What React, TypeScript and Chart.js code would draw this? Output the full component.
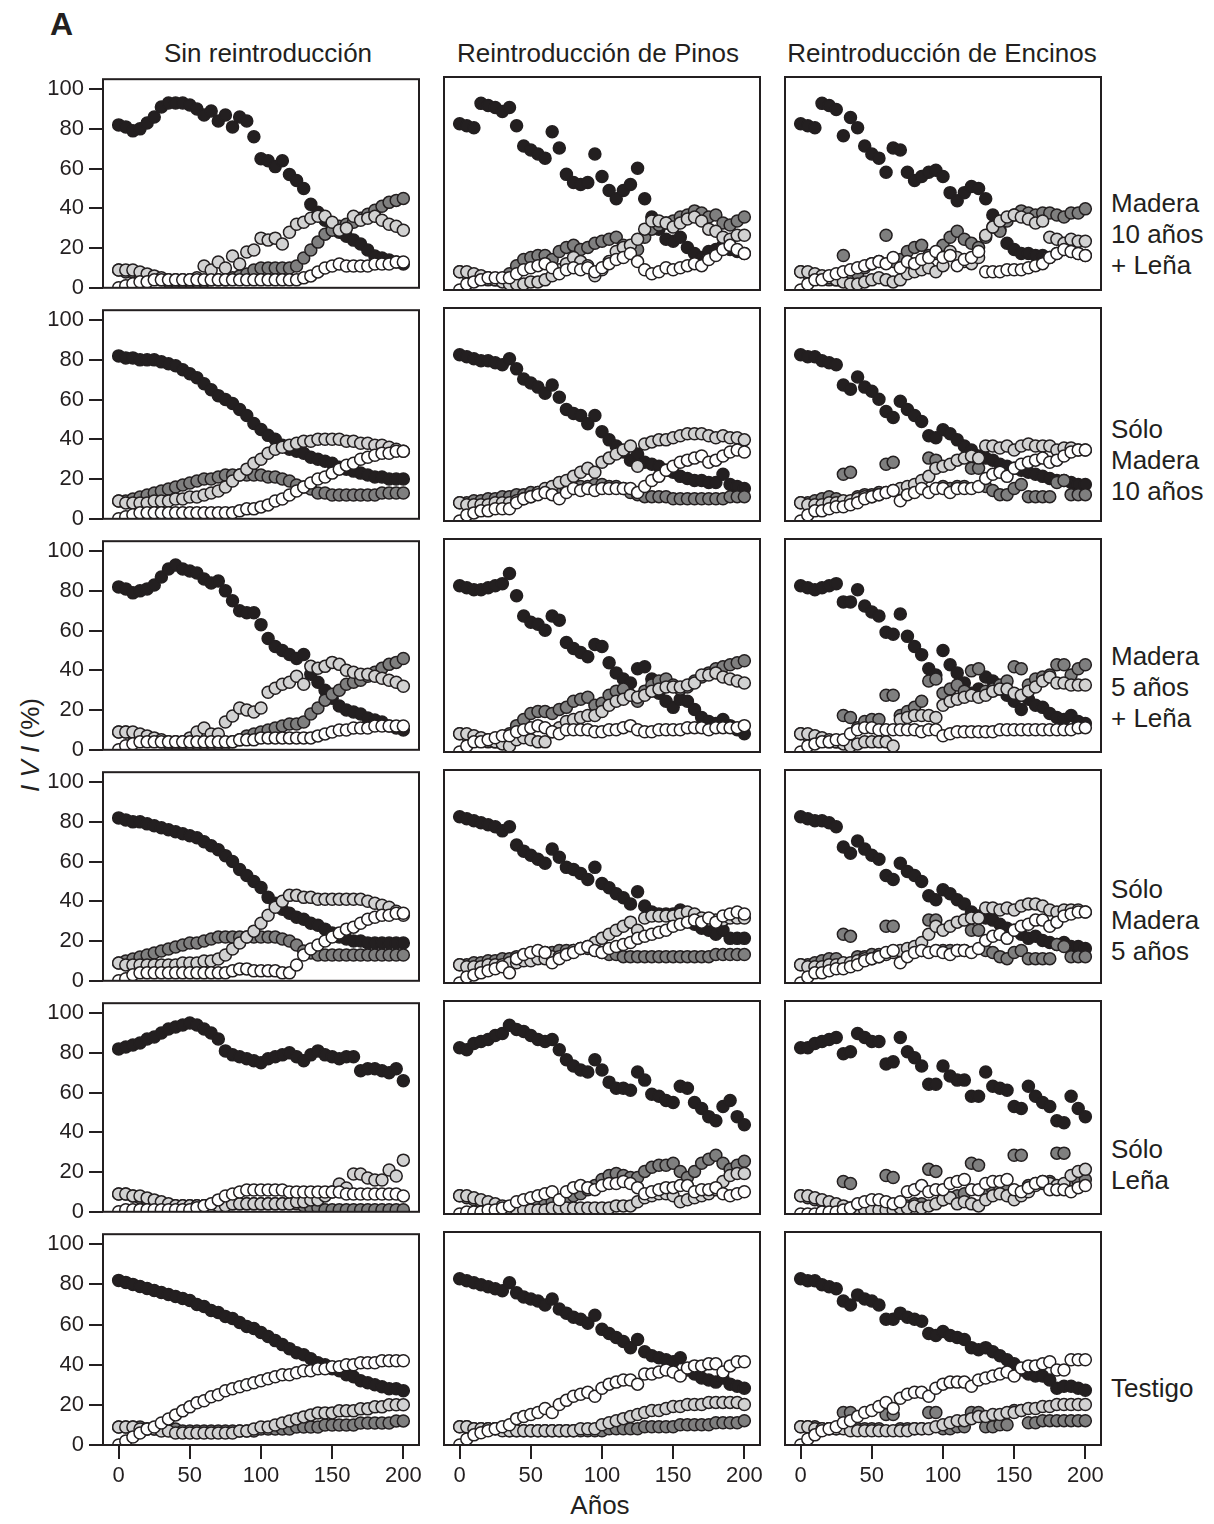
import React, { useEffect, useRef } from "react";
import { Chart, registerables } from "chart.js";

Chart.register(...registerables);

const INK = "#231f20";
const FONT = "'Liberation Sans', Arial, Helvetica, sans-serif";

// ---------- data ----------
const YEARS = [0, 5, 10, 15, 20, 25, 30, 35, 40, 45, 50, 55, 60, 65, 70, 75, 80, 85, 90, 95, 100, 105, 110, 115, 120, 125, 130, 135, 140, 145, 150, 155, 160, 165, 170, 175, 180, 185, 190, 195, 200];
const Y_TICKS = [0, 20, 40, 60, 80, 100];
const X_TICKS = [0, 50, 100, 150, 200];
const COLUMN_TITLES = ["Sin reintroducción", "Reintroducción de Pinos", "Reintroducción de Encinos"];
const ROW_LABELS = [
  ["Madera", "10 años", "+ Leña"],
  ["Sólo", "Madera", "10 años"],
  ["Madera", "5 años", "+ Leña"],
  ["Sólo", "Madera", "5 años"],
  ["Sólo", "Leña"],
  ["Testigo"],
];
const SERIES_NAMES = ["Blanco", "Gris claro", "Gris oscuro", "Negro"];
const SERIES_FILLS = ["#ffffff", "#d2d2d2", "#7f7f7f", INK];

// Row 1: Madera 10 años + Leña
const M10L_SR_BLACK = [82, 81, 79, 80, 83, 86, 91, 93, 93, 93, 92, 90, 87, 89, 84, 87, 81, 86, 84, 76, 65, 64, 61, 64, 57, 54, 50, 42, 38, 34, 30, 28, 26, 24, 22, 19, 16, 15, 14, 13, 12];
const M10L_SR_DARK = [9, 8, 8, 7, 6, 5, 4, 3, 3, 3, 3, 3, 3, 4, 4, 4, 5, 6, 7, 9, 10, 10, 10, 10, 10, 11, 15, 19, 23, 27, 29, 31, 32, 33, 35, 37, 39, 41, 43, 44, 45];
const M10L_SR_LIGHT = [9, 9, 9, 8, 7, 6, 5, 4, 4, 4, 4, 5, 11, 9, 13, 10, 16, 12, 18, 19, 25, 24, 25, 22, 28, 32, 33, 35, 36, 36, 33, 29, 30, 36, 34, 35, 36, 34, 32, 31, 29];
const M10L_SR_WHITE = [0, 1, 2, 3, 3, 4, 4, 4, 4, 4, 4, 4, 4, 4, 4, 4, 4, 4, 4, 4, 4, 4, 4, 4, 4, 4, 5, 6, 8, 10, 11, 12, 11, 11, 11, 11, 12, 12, 12, 13, 13];

const M10L_RP_BLACK = [82, 81, 80, 92, 91, 90, 88, 90, 81, 71, 69, 67, 65, 78, 70, 57, 53, 52, 53, 67, 56, 49, 45, 49, 52, 60, 45, 36, 30, 25, 24, 26, 21, 18, 16, 19, 20, 22, 20, 19, 18];
const M10L_RP_DARK = [9, 8, 7, 6, 5, 5, 5, 8, 12, 15, 16, 17, 17, 15, 19, 21, 22, 20, 21, 23, 24, 25, 26, 22, 20, 20, 26, 30, 32, 33, 34, 36, 37, 39, 38, 36, 37, 33, 32, 34, 36];
const M10L_RP_LIGHT = [9, 9, 8, 7, 6, 5, 4, 3, 3, 3, 4, 4, 5, 7, 10, 13, 16, 14, 12, 7, 10, 14, 19, 21, 22, 25, 30, 34, 34, 33, 31, 33, 35, 36, 34, 30, 29, 26, 25, 27, 27];
const M10L_RP_WHITE = [0, 3, 4, 5, 6, 6, 6, 6, 8, 10, 11, 12, 13, 11, 8, 10, 11, 10, 11, 9, 11, 13, 15, 16, 18, 14, 10, 8, 9, 11, 10, 11, 12, 13, 12, 15, 17, 20, 22, 20, 18];

const M10L_RE_BLACK = [82, 81, 80, 92, 91, 89, 76, 85, 80, 71, 67, 65, 58, 70, 69, 58, 54, 56, 58, 59, 56, 48, 44, 48, 51, 50, 45, 37, 30, 23, 20, 18, 18, 17, 17, 16, 18, 20, 19, 18, 17];
const M10L_RE_DARK = [9, 8, 7, 6, 5, 5, 17, 6, 8, 11, 13, 14, 27, 14, 15, 19, 21, 22, 17, 18, 22, 26, 29, 25, 23, 21, 26, 31, 29, 34, 37, 39, 38, 37, 38, 38, 37, 36, 38, 38, 40];
const M10L_RE_LIGHT = [9, 9, 8, 7, 6, 5, 4, 3, 3, 4, 5, 6, 5, 4, 5, 8, 9, 10, 11, 9, 12, 19, 16, 14, 13, 16, 27, 31, 34, 36, 37, 36, 35, 33, 34, 26, 25, 23, 25, 24, 24];
const M10L_RE_WHITE = [0, 3, 5, 5, 7, 8, 9, 10, 11, 12, 13, 14, 13, 16, 11, 14, 13, 15, 16, 19, 16, 17, 12, 15, 16, 19, 9, 9, 9, 10, 10, 10, 11, 12, 13, 16, 18, 20, 19, 18, 17];

// Row 2: Sólo Madera 10 años
const M10_SR_BLACK = [82, 81, 81, 80, 80, 80, 79, 78, 77, 75, 73, 71, 68, 65, 62, 60, 58, 55, 52, 48, 45, 42, 40, 37, 35, 34, 33, 31, 30, 29, 28, 26, 25, 24, 23, 22, 21, 21, 20, 20, 20];
const M10_SR_DARK = [9, 9, 10, 11, 12, 13, 14, 15, 16, 17, 18, 19, 20, 20, 21, 22, 22, 22, 22, 22, 22, 21, 21, 20, 19, 17, 16, 15, 13, 13, 12, 12, 12, 12, 12, 12, 12, 13, 13, 13, 13];
const M10_SR_LIGHT = [9, 8, 8, 8, 8, 9, 9, 9, 10, 10, 11, 11, 12, 13, 14, 16, 19, 22, 25, 28, 30, 33, 35, 36, 37, 38, 39, 39, 40, 40, 40, 40, 39, 39, 38, 38, 37, 37, 36, 35, 34];
const M10_SR_WHITE = [0, 1, 2, 3, 3, 3, 3, 3, 3, 3, 3, 3, 3, 3, 3, 3, 3, 4, 5, 5, 6, 7, 9, 10, 12, 14, 16, 18, 20, 21, 23, 25, 27, 28, 30, 31, 32, 33, 33, 34, 34];

const M10_RP_BLACK = [82, 81, 80, 79, 79, 78, 77, 80, 75, 70, 68, 66, 63, 67, 61, 55, 53, 52, 48, 52, 44, 40, 37, 34, 30, 33, 29, 28, 27, 25, 24, 22, 21, 20, 20, 19, 19, 23, 18, 17, 16];
const M10_RP_DARK = [9, 9, 10, 10, 11, 11, 12, 12, 13, 13, 14, 14, 15, 15, 16, 16, 16, 17, 17, 18, 18, 17, 17, 16, 14, 13, 12, 12, 12, 12, 11, 11, 11, 11, 11, 11, 11, 11, 12, 12, 12];
const M10_RP_LIGHT = [9, 8, 8, 8, 8, 9, 9, 9, 10, 11, 12, 14, 16, 17, 19, 20, 22, 24, 26, 24, 29, 31, 33, 35, 37, 27, 38, 39, 40, 40, 41, 42, 43, 43, 43, 42, 41, 42, 41, 41, 40];
const M10_RP_WHITE = [0, 3, 4, 5, 5, 6, 6, 6, 9, 11, 12, 13, 14, 13, 11, 14, 16, 15, 16, 15, 16, 16, 16, 16, 16, 14, 17, 20, 22, 25, 27, 29, 30, 31, 32, 29, 30, 32, 34, 35, 34];

const M10_RE_BLACK = [82, 81, 81, 79, 78, 77, 67, 65, 71, 66, 64, 60, 54, 51, 59, 55, 52, 49, 42, 41, 45, 43, 40, 37, 35, 32, 31, 30, 28, 27, 26, 25, 24, 23, 22, 21, 20, 20, 19, 18, 18];
const M10_RE_DARK = [9, 9, 10, 11, 12, 11, 23, 24, 12, 13, 13, 14, 28, 29, 14, 15, 15, 16, 31, 30, 17, 16, 17, 17, 26, 26, 17, 15, 13, 13, 16, 18, 12, 12, 12, 12, 19, 20, 13, 13, 13];
const M10_RE_LIGHT = [9, 8, 8, 8, 9, 9, 10, 10, 11, 12, 12, 13, 14, 15, 16, 17, 18, 20, 22, 26, 27, 28, 30, 31, 32, 31, 37, 37, 36, 37, 35, 37, 38, 37, 37, 37, 35, 36, 36, 35, 35];
const M10_RE_WHITE = [0, 3, 5, 5, 6, 7, 7, 8, 9, 11, 12, 13, 14, 15, 10, 13, 14, 16, 14, 16, 16, 14, 16, 16, 16, 17, 21, 23, 24, 22, 26, 28, 29, 30, 31, 29, 30, 32, 34, 35, 35];

// Row 3: Madera 5 años + Leña
const M5L_SR_BLACK = [82, 81, 79, 80, 81, 83, 87, 91, 93, 91, 90, 89, 86, 84, 85, 80, 75, 70, 69, 69, 63, 56, 52, 50, 48, 46, 48, 38, 34, 30, 26, 22, 20, 19, 18, 16, 15, 14, 12, 11, 10];
const M5L_SR_DARK = [9, 9, 8, 7, 6, 5, 4, 3, 3, 3, 3, 3, 3, 3, 3, 3, 4, 5, 7, 8, 9, 10, 11, 12, 13, 13, 14, 18, 21, 25, 28, 30, 33, 34, 35, 37, 39, 41, 43, 44, 46];
const M5L_SR_LIGHT = [9, 9, 9, 8, 7, 6, 5, 4, 4, 4, 6, 9, 11, 8, 8, 14, 17, 21, 20, 19, 21, 29, 31, 33, 34, 37, 33, 42, 41, 42, 44, 43, 40, 39, 38, 38, 37, 36, 35, 34, 32];
const M5L_SR_WHITE = [0, 2, 3, 4, 4, 4, 4, 4, 4, 4, 4, 4, 4, 4, 4, 4, 4, 5, 5, 5, 6, 6, 6, 6, 6, 6, 6, 6, 7, 8, 9, 10, 10, 11, 11, 11, 12, 12, 12, 12, 12];

const M5L_RP_BLACK = [82, 81, 80, 80, 81, 82, 83, 88, 77, 67, 64, 63, 60, 67, 65, 54, 51, 49, 47, 53, 52, 44, 39, 36, 34, 41, 42, 36, 29, 25, 22, 26, 25, 21, 17, 15, 14, 16, 13, 11, 9];
const M5L_RP_DARK = [9, 8, 7, 6, 5, 5, 6, 9, 13, 16, 19, 20, 20, 19, 21, 22, 25, 26, 27, 23, 24, 28, 30, 31, 28, 25, 30, 33, 35, 36, 33, 31, 32, 35, 37, 39, 41, 42, 43, 44, 45];
const M5L_RP_LIGHT = [9, 9, 8, 7, 6, 5, 4, 3, 6, 7, 6, 5, 5, 10, 12, 15, 16, 17, 18, 18, 20, 23, 25, 26, 28, 27, 28, 30, 31, 32, 32, 32, 33, 34, 38, 38, 39, 37, 36, 35, 34];
const M5L_RP_WHITE = [0, 3, 5, 5, 6, 7, 8, 8, 10, 11, 12, 13, 12, 10, 9, 11, 11, 11, 11, 10, 10, 11, 11, 12, 13, 11, 10, 10, 11, 11, 11, 11, 12, 12, 12, 11, 12, 12, 12, 12, 13];

const M5L_RE_BLACK = [82, 81, 80, 81, 82, 83, 74, 74, 80, 72, 69, 67, 59, 58, 68, 57, 52, 48, 41, 38, 50, 43, 39, 34, 29, 31, 37, 35, 31, 28, 25, 21, 26, 23, 22, 19, 17, 16, 18, 15, 14];
const M5L_RE_DARK = [9, 8, 7, 6, 5, 5, 18, 17, 12, 15, 16, 16, 28, 28, 18, 20, 22, 25, 35, 36, 29, 31, 33, 30, 40, 41, 30, 31, 33, 35, 42, 41, 33, 36, 37, 38, 43, 43, 38, 41, 43];
const M5L_RE_LIGHT = [9, 9, 8, 7, 6, 5, 4, 3, 4, 5, 5, 5, 5, 3, 16, 17, 18, 18, 18, 17, 23, 25, 26, 27, 28, 27, 28, 30, 31, 31, 29, 28, 30, 32, 35, 37, 34, 34, 33, 33, 33];
const M5L_RE_WHITE = [0, 3, 4, 5, 5, 6, 6, 9, 11, 12, 12, 11, 11, 11, 11, 11, 11, 10, 11, 11, 8, 9, 10, 10, 10, 10, 10, 10, 11, 11, 11, 11, 11, 11, 11, 11, 11, 11, 11, 12, 12];

// Row 4: Sólo Madera 5 años
const M5_SR_BLACK = [82, 81, 80, 80, 79, 78, 77, 76, 75, 74, 73, 72, 70, 68, 66, 63, 60, 56, 53, 50, 47, 42, 39, 36, 34, 32, 31, 29, 28, 26, 24, 22, 21, 20, 20, 19, 19, 19, 19, 19, 19];
const M5_SR_DARK = [9, 10, 11, 12, 13, 14, 15, 16, 17, 18, 19, 19, 20, 21, 22, 22, 22, 22, 22, 22, 22, 22, 22, 21, 20, 18, 15, 14, 13, 13, 13, 13, 13, 13, 13, 13, 13, 13, 13, 13, 13];
const M5_SR_LIGHT = [9, 8, 8, 8, 8, 8, 8, 8, 8, 9, 9, 9, 10, 10, 11, 13, 16, 19, 22, 25, 29, 33, 37, 40, 43, 43, 42, 42, 41, 41, 41, 41, 41, 41, 41, 40, 39, 38, 37, 35, 33];
const M5_SR_WHITE = [0, 1, 3, 4, 4, 4, 4, 4, 4, 4, 4, 4, 4, 4, 4, 4, 5, 6, 6, 5, 5, 5, 5, 4, 4, 8, 13, 16, 18, 20, 22, 24, 26, 27, 29, 31, 32, 33, 33, 34, 34];

const M5_RP_BLACK = [82, 81, 80, 79, 78, 77, 75, 77, 68, 65, 63, 61, 59, 66, 62, 57, 56, 54, 51, 57, 49, 47, 44, 42, 39, 45, 38, 35, 34, 34, 34, 36, 32, 29, 27, 26, 24, 26, 22, 22, 22];
const M5_RP_DARK = [9, 9, 10, 10, 11, 11, 12, 12, 13, 13, 14, 14, 15, 15, 16, 16, 16, 17, 17, 16, 15, 14, 14, 13, 13, 13, 13, 13, 13, 13, 13, 13, 13, 13, 13, 13, 14, 14, 14, 14, 14];
const M5_RP_LIGHT = [9, 8, 8, 8, 9, 9, 9, 10, 10, 11, 11, 12, 12, 13, 13, 14, 16, 17, 18, 20, 22, 24, 26, 28, 30, 26, 32, 33, 33, 33, 33, 34, 35, 34, 32, 31, 31, 31, 32, 32, 32];
const M5_RP_WHITE = [0, 3, 4, 5, 6, 7, 8, 5, 12, 14, 15, 16, 15, 10, 12, 14, 15, 17, 18, 16, 15, 17, 18, 19, 20, 22, 23, 24, 25, 26, 28, 29, 30, 31, 30, 32, 30, 33, 34, 35, 34];

const M5_RE_BLACK = [82, 81, 80, 80, 79, 77, 67, 64, 70, 66, 63, 61, 53, 51, 59, 55, 53, 50, 43, 41, 46, 44, 41, 39, 35, 33, 32, 31, 29, 27, 26, 24, 22, 23, 21, 20, 19, 20, 18, 18, 17];
const M5_RE_DARK = [9, 9, 10, 11, 12, 12, 24, 23, 13, 13, 14, 14, 28, 28, 15, 15, 16, 16, 31, 31, 16, 16, 16, 16, 26, 26, 16, 15, 13, 12, 15, 16, 12, 12, 12, 12, 19, 18, 13, 13, 13];
const M5_RE_LIGHT = [9, 8, 8, 8, 9, 9, 10, 10, 11, 12, 12, 13, 14, 15, 16, 17, 18, 20, 24, 28, 26, 28, 30, 31, 32, 32, 37, 37, 36, 37, 36, 38, 39, 39, 38, 36, 35, 36, 36, 36, 35];
const M5_RE_WHITE = [0, 3, 5, 5, 6, 7, 7, 8, 9, 11, 12, 13, 15, 16, 10, 13, 15, 16, 15, 16, 15, 14, 16, 16, 15, 17, 21, 23, 24, 22, 26, 28, 29, 31, 31, 28, 30, 33, 34, 35, 35];

// Row 5: Sólo Leña
const L_SR_BLACK = [82, 83, 84, 85, 87, 88, 90, 92, 93, 94, 95, 94, 92, 90, 87, 81, 79, 78, 77, 76, 75, 77, 78, 79, 80, 78, 76, 79, 81, 79, 78, 77, 78, 78, 71, 72, 72, 71, 70, 72, 66];
const L_SR_DARK = [9, 9, 8, 7, 6, 5, 4, 3, 3, 3, 3, 3, 3, 3, 4, 4, 4, 4, 4, 4, 4, 4, 4, 4, 4, 4, 3, 2, 2, 1, 1, 1, 1, 1, 1, 1, 1, 1, 1, 1, 1];
const L_SR_LIGHT = [9, 9, 8, 8, 7, 6, 5, 4, 3, 3, 3, 3, 3, 3, 3, 3, 4, 4, 4, 4, 4, 4, 4, 4, 4, 5, 5, 6, 6, 8, 10, 14, 12, 19, 19, 17, 16, 16, 21, 18, 26];
const L_SR_WHITE = [0, 1, 1, 1, 1, 1, 1, 1, 1, 1, 1, 2, 3, 4, 6, 8, 9, 10, 11, 11, 11, 11, 11, 11, 10, 10, 10, 10, 10, 10, 10, 10, 9, 9, 9, 9, 9, 9, 9, 9, 8];

const L_RP_BLACK = [82, 81, 84, 85, 86, 88, 89, 93, 91, 90, 88, 86, 85, 86, 81, 76, 73, 71, 70, 76, 71, 65, 62, 62, 61, 70, 66, 59, 58, 56, 55, 63, 62, 55, 52, 48, 46, 53, 56, 48, 44];
const L_RP_DARK = [9, 8, 7, 6, 5, 4, 3, 3, 3, 3, 4, 4, 5, 6, 7, 8, 9, 10, 12, 14, 17, 19, 20, 19, 18, 18, 21, 23, 24, 24, 25, 21, 18, 21, 25, 27, 29, 25, 22, 24, 26];
const L_RP_LIGHT = [9, 9, 8, 7, 6, 5, 4, 3, 2, 2, 2, 2, 2, 3, 3, 3, 3, 3, 3, 3, 3, 3, 4, 4, 4, 6, 8, 9, 10, 10, 9, 6, 7, 8, 9, 10, 12, 16, 19, 20, 20];
const L_RP_WHITE = [0, 1, 1, 1, 2, 2, 3, 4, 6, 7, 8, 9, 10, 11, 7, 11, 13, 14, 13, 12, 14, 15, 15, 16, 15, 13, 10, 11, 12, 13, 13, 14, 14, 11, 12, 12, 13, 10, 9, 10, 11];

const L_RE_BLACK = [82, 82, 84, 85, 86, 87, 79, 80, 89, 87, 85, 85, 74, 75, 87, 80, 77, 73, 64, 64, 73, 68, 66, 66, 58, 58, 70, 63, 62, 61, 53, 52, 63, 58, 55, 53, 46, 45, 58, 52, 48];
const L_RE_DARK = [9, 8, 7, 6, 5, 4, 16, 15, 3, 3, 3, 3, 19, 18, 4, 4, 5, 5, 22, 21, 7, 8, 9, 10, 25, 24, 11, 12, 13, 13, 29, 29, 14, 15, 15, 16, 30, 30, 16, 16, 17];
const L_RE_LIGHT = [9, 9, 8, 7, 6, 5, 4, 3, 3, 2, 2, 2, 2, 2, 3, 3, 4, 3, 4, 5, 7, 8, 5, 6, 5, 4, 7, 9, 10, 9, 7, 9, 11, 14, 16, 15, 14, 15, 19, 21, 22];
const L_RE_WHITE = [0, 0, 0, 1, 1, 1, 2, 3, 5, 6, 7, 7, 6, 5, 6, 11, 12, 14, 11, 12, 12, 15, 16, 17, 12, 12, 15, 16, 16, 17, 12, 11, 13, 15, 16, 12, 12, 12, 11, 13, 14];

// Row 6: Testigo
const T_SR_BLACK = [82, 81, 80, 79, 78, 77, 76, 75, 74, 73, 72, 70, 69, 67, 66, 64, 63, 61, 59, 58, 56, 54, 52, 50, 48, 46, 45, 43, 41, 40, 38, 37, 35, 34, 32, 31, 30, 29, 28, 28, 27];
const T_SR_DARK = [9, 9, 9, 9, 8, 8, 8, 8, 8, 7, 7, 7, 7, 7, 7, 7, 7, 7, 7, 7, 8, 8, 8, 8, 8, 9, 9, 9, 9, 10, 10, 10, 10, 10, 11, 11, 11, 11, 11, 12, 12];
const T_SR_LIGHT = [9, 9, 9, 8, 8, 8, 7, 7, 6, 6, 6, 6, 6, 6, 6, 6, 6, 7, 7, 8, 9, 9, 10, 11, 12, 13, 14, 15, 16, 16, 16, 17, 17, 17, 18, 18, 19, 19, 20, 20, 20];
const T_SR_WHITE = [0, 2, 4, 6, 8, 9, 11, 13, 15, 17, 19, 21, 22, 24, 25, 27, 28, 29, 30, 31, 32, 33, 34, 35, 35, 36, 37, 37, 38, 38, 39, 39, 40, 40, 41, 41, 41, 42, 42, 42, 42];

const T_RP_BLACK = [82, 81, 80, 79, 78, 77, 76, 80, 75, 73, 72, 71, 69, 72, 67, 65, 63, 62, 60, 64, 57, 55, 53, 51, 48, 52, 46, 44, 43, 42, 41, 43, 37, 35, 33, 32, 31, 33, 30, 29, 28];
const T_RP_DARK = [9, 9, 8, 8, 8, 8, 8, 7, 7, 7, 7, 7, 7, 7, 7, 7, 7, 7, 7, 7, 7, 8, 8, 8, 8, 8, 9, 9, 9, 9, 9, 10, 10, 10, 10, 10, 11, 11, 11, 11, 12];
const T_RP_LIGHT = [9, 9, 8, 8, 8, 8, 7, 7, 7, 7, 7, 7, 7, 7, 7, 7, 7, 8, 8, 8, 10, 11, 12, 13, 14, 15, 16, 17, 17, 18, 19, 19, 20, 20, 20, 21, 21, 21, 21, 21, 20];
const T_RP_WHITE = [0, 3, 5, 6, 7, 8, 9, 10, 13, 14, 15, 16, 18, 16, 20, 22, 24, 25, 26, 24, 28, 30, 31, 32, 32, 30, 35, 35, 36, 37, 36, 34, 38, 39, 39, 40, 40, 36, 39, 41, 41];

const T_RE_BLACK = [82, 81, 81, 79, 78, 77, 71, 69, 74, 72, 71, 69, 62, 62, 65, 63, 62, 61, 55, 54, 56, 54, 53, 52, 48, 47, 48, 46, 44, 42, 40, 37, 35, 34, 34, 32, 28, 29, 29, 28, 27];
const T_RE_DARK = [9, 9, 9, 8, 8, 8, 16, 16, 8, 8, 8, 8, 15, 15, 8, 8, 8, 8, 16, 16, 8, 8, 9, 9, 16, 16, 9, 9, 10, 10, 17, 17, 11, 11, 12, 12, 12, 12, 12, 12, 12];
const T_RE_LIGHT = [9, 9, 8, 8, 8, 8, 8, 7, 7, 7, 7, 7, 7, 7, 7, 7, 8, 8, 8, 9, 10, 11, 12, 12, 13, 14, 14, 15, 15, 16, 16, 17, 18, 18, 19, 19, 20, 20, 20, 20, 20];
const T_RE_WHITE = [0, 3, 5, 7, 8, 9, 11, 12, 14, 16, 17, 19, 21, 18, 23, 25, 26, 26, 24, 28, 30, 31, 31, 31, 29, 32, 33, 34, 35, 36, 34, 38, 39, 39, 40, 41, 37, 37, 42, 42, 42];

type PanelData = { white: number[]; light: number[]; dark: number[]; black: number[] };
const P = (white: number[], light: number[], dark: number[], black: number[]): PanelData => ({ white, light, dark, black });

const GRID: PanelData[][] = [
  [P(M10L_SR_WHITE, M10L_SR_LIGHT, M10L_SR_DARK, M10L_SR_BLACK), P(M10L_RP_WHITE, M10L_RP_LIGHT, M10L_RP_DARK, M10L_RP_BLACK), P(M10L_RE_WHITE, M10L_RE_LIGHT, M10L_RE_DARK, M10L_RE_BLACK)],
  [P(M10_SR_WHITE, M10_SR_LIGHT, M10_SR_DARK, M10_SR_BLACK), P(M10_RP_WHITE, M10_RP_LIGHT, M10_RP_DARK, M10_RP_BLACK), P(M10_RE_WHITE, M10_RE_LIGHT, M10_RE_DARK, M10_RE_BLACK)],
  [P(M5L_SR_WHITE, M5L_SR_LIGHT, M5L_SR_DARK, M5L_SR_BLACK), P(M5L_RP_WHITE, M5L_RP_LIGHT, M5L_RP_DARK, M5L_RP_BLACK), P(M5L_RE_WHITE, M5L_RE_LIGHT, M5L_RE_DARK, M5L_RE_BLACK)],
  [P(M5_SR_WHITE, M5_SR_LIGHT, M5_SR_DARK, M5_SR_BLACK), P(M5_RP_WHITE, M5_RP_LIGHT, M5_RP_DARK, M5_RP_BLACK), P(M5_RE_WHITE, M5_RE_LIGHT, M5_RE_DARK, M5_RE_BLACK)],
  [P(L_SR_WHITE, L_SR_LIGHT, L_SR_DARK, L_SR_BLACK), P(L_RP_WHITE, L_RP_LIGHT, L_RP_DARK, L_RP_BLACK), P(L_RE_WHITE, L_RE_LIGHT, L_RE_DARK, L_RE_BLACK)],
  [P(T_SR_WHITE, T_SR_LIGHT, T_SR_DARK, T_SR_BLACK), P(T_RP_WHITE, T_RP_LIGHT, T_RP_DARK, T_RP_BLACK), P(T_RE_WHITE, T_RE_LIGHT, T_RE_DARK, T_RE_BLACK)],
];

// ---------- layout ----------
const BOX_LEFT = [103, 444, 785];
const BOX_TOP = [77, 308, 539, 770, 1001, 1232];
const BOX_W = 316;
const BOX_H = 213;
const PAD = 16;
const Y_AXIS_W = 80;
const X_AXIS_H = 50;
const X_MIN = -11;
const X_MAX = 211;
const Y_MIN = 0;
const Y_MAX = 105;
const TITLE_CENTERS = [268, 598, 942];
const ROW_LABEL_TOPS = [188, 414, 641, 874, 1134, 1373];

const boxPlugin = {
  id: "panelBox",
  afterDraw(chart: any) {
    const { ctx, chartArea: a } = chart;
    ctx.save();
    ctx.strokeStyle = INK;
    ctx.lineWidth = 2;
    ctx.strokeRect(a.left, a.top, a.right - a.left, a.bottom - a.top);
    ctx.restore();
  },
};

function Panel({ row, col }: { row: number; col: number }) {
  const ref = useRef<HTMLCanvasElement>(null);
  const hasY = col === 0;
  const hasX = row === GRID.length - 1;
  const w = PAD * 2 + BOX_W + (hasY ? Y_AXIS_W : 0);
  const h = PAD * 2 + BOX_H + (hasX ? X_AXIS_H : 0);
  const left = BOX_LEFT[col] - PAD - (hasY ? Y_AXIS_W : 0);
  const top = BOX_TOP[row] - PAD;

  useEffect(() => {
    const p = GRID[row][col];
    const series = [p.white, p.light, p.dark, p.black];
    const tickGrid = {
      display: true,
      drawOnChartArea: false,
      drawTicks: true,
      tickLength: 14,
      color: INK,
      lineWidth: 2,
    };
    const tickFont = { family: FONT, size: 22 };
    const chart = new Chart(ref.current as HTMLCanvasElement, {
      type: "scatter",
      data: {
        datasets: series.map((arr, i) => ({
          label: SERIES_NAMES[i],
          data: YEARS.map((x, j) => ({ x, y: arr[j] })),
          backgroundColor: SERIES_FILLS[i],
          borderColor: INK,
          borderWidth: 1.5,
          pointRadius: 6,
          pointHoverRadius: 6,
          clip: 0,
        })),
      },
      options: {
        responsive: false,
        animation: false,
        devicePixelRatio: 1,
        events: [],
        layout: { padding: PAD },
        plugins: {
          legend: { display: false },
          tooltip: { enabled: false },
          title: { display: false },
        },
        scales: {
          x: {
            type: "linear",
            min: X_MIN,
            max: X_MAX,
            display: hasX,
            afterBuildTicks: (axis: any) => {
              axis.ticks = X_TICKS.map((v) => ({ value: v }));
            },
            ...(hasX ? { afterFit: (axis: any) => { axis.height = X_AXIS_H; } } : {}),
            grid: tickGrid,
            border: { display: false },
            ticks: { color: INK, font: tickFont, padding: 4, maxRotation: 0, autoSkip: false },
          },
          y: {
            type: "linear",
            min: Y_MIN,
            max: Y_MAX,
            display: hasY,
            afterBuildTicks: (axis: any) => {
              axis.ticks = Y_TICKS.map((v) => ({ value: v }));
            },
            ...(hasY ? { afterFit: (axis: any) => { axis.width = Y_AXIS_W; } } : {}),
            grid: tickGrid,
            border: { display: false },
            ticks: { color: INK, font: tickFont, padding: 5, autoSkip: false },
          },
        },
      } as any,
      plugins: [boxPlugin],
    });
    return () => chart.destroy();
  }, [row, col]);

  return (
    <canvas
      ref={ref}
      width={w}
      height={h}
      style={{ position: "absolute", left, top, width: w, height: h }}
    />
  );
}

export default function App() {
  return (
    <div
      style={{
        position: "absolute",
        left: 0,
        top: 0,
        width: 1214,
        height: 1524,
        background: "#ffffff",
        fontFamily: FONT,
        color: INK,
        overflow: "hidden",
      }}
    >
      <div style={{ position: "absolute", left: 50, top: 8, fontSize: 32, fontWeight: 700, lineHeight: 1 }}>A</div>
      {COLUMN_TITLES.map((t, c) => (
        <div
          key={t}
          style={{
            position: "absolute",
            left: TITLE_CENTERS[c] - 200,
            width: 400,
            top: 40,
            textAlign: "center",
            fontSize: 26,
            lineHeight: 1,
            whiteSpace: "nowrap",
          }}
        >
          {t}
        </div>
      ))}
      {ROW_LABELS.map((lines, r) => (
        <div
          key={r}
          style={{
            position: "absolute",
            left: 1111,
            top: ROW_LABEL_TOPS[r],
            fontSize: 26,
            lineHeight: "31px",
            whiteSpace: "nowrap",
          }}
        >
          {lines.map((l, i) => (
            <div key={i}>{l}</div>
          ))}
        </div>
      ))}
      <div
        style={{
          position: "absolute",
          left: 30 - 80,
          top: 745 - 16,
          width: 160,
          height: 32,
          lineHeight: "32px",
          textAlign: "center",
          fontSize: 26,
          whiteSpace: "nowrap",
          transform: "rotate(-90deg)",
          transformOrigin: "50% 50%",
        }}
      >
        <i>I V I</i> (%)
      </div>
      <div
        style={{
          position: "absolute",
          left: 600 - 100,
          width: 200,
          top: 1492,
          textAlign: "center",
          fontSize: 26,
          lineHeight: 1,
        }}
      >
        Años
      </div>
      {GRID.map((rowPanels, r) =>
        rowPanels.map((_, c) => <Panel key={`${r}-${c}`} row={r} col={c} />)
      )}
    </div>
  );
}
